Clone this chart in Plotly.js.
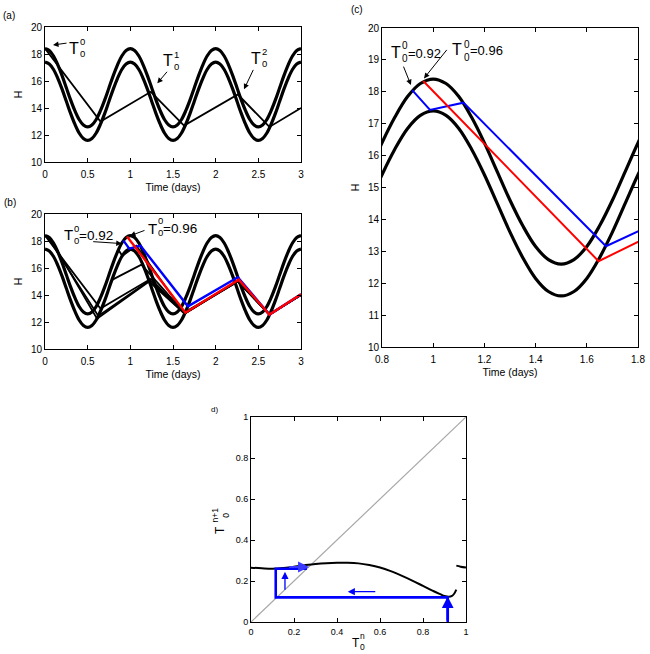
<!DOCTYPE html>
<html>
<head>
<meta charset="utf-8">
<script src="https://cdn.plot.ly/plotly-3.0.1.min.js"></script>
<style>html,body{margin:0;padding:0;background:#fff;}#chart{width:650px;height:654px;}</style>
</head>
<body>
<div id="chart"></div>
<script>
// ---------------- data ----------------
const timeDays = [0,0.05,0.1,0.15,0.2,0.25,0.3,0.35,0.4,0.45,0.5,0.55,0.6,0.65,0.7,0.75,0.8,0.85,0.9,0.95,
  1,1.05,1.1,1.15,1.2,1.25,1.3,1.35,1.4,1.45,1.5,1.55,1.6,1.65,1.7,1.75,1.8,1.85,1.9,1.95,
  2,2.05,2.1,2.15,2.2,2.25,2.3,2.35,2.4,2.45,2.5,2.55,2.6,2.65,2.7,2.75,2.8,2.85,2.9,2.95,3];
const upperH = [18.40,18.26,17.85,17.20,16.40,15.50,14.60,13.80,13.15,12.74,12.60,12.74,13.15,13.80,14.60,15.50,16.40,17.20,17.85,18.26,
  18.40,18.26,17.85,17.20,16.40,15.50,14.60,13.80,13.15,12.74,12.60,12.74,13.15,13.80,14.60,15.50,16.40,17.20,17.85,18.26,
  18.40,18.26,17.85,17.20,16.40,15.50,14.60,13.80,13.15,12.74,12.60,12.74,13.15,13.80,14.60,15.50,16.40,17.20,17.85,18.26,18.40];
const lowerH = [17.40,17.26,16.85,16.20,15.40,14.50,13.60,12.80,12.15,11.74,11.60,11.74,12.15,12.80,13.60,14.50,15.40,16.20,16.85,17.26,
  17.40,17.26,16.85,16.20,15.40,14.50,13.60,12.80,12.15,11.74,11.60,11.74,12.15,12.80,13.60,14.50,15.40,16.20,16.85,17.26,
  17.40,17.26,16.85,16.20,15.40,14.50,13.60,12.80,12.15,11.74,11.60,11.74,12.15,12.80,13.60,14.50,15.40,16.20,16.85,17.26,17.40];

// panel (a) trajectory
const trajA_t = [0, 0.65, 1.24, 1.63, 2.26, 2.63, 3];
const trajA_H = [18.4, 13.0, 15.2, 12.7, 15.0, 12.6, 14.0];

// panel (b) black trajectories
const trajB2_t = [0.03, 0.625, 1.23, 1.63, 2.26, 2.63, 3];
const trajB2_H = [18.3, 12.45, 15.1, 12.65, 15.0, 12.55, 14.0];
const trajB3_t = [0.07, 0.61, 1.22, 1.635, 2.26, 2.63, 3];
const trajB3_H = [18.1, 12.25, 15.0, 12.62, 15.0, 12.55, 14.0];
const trajB4_t = [0.78, 1.13, 1.64, 2.26, 2.63, 3];
const trajB4_H = [15.1, 16.25, 12.65, 15.05, 12.55, 14.0];
const trajB5_t = [0.86, 0.905, 1.07, 1.64, 2.26, 2.63, 3];
const trajB5_H = [17.35, 16.9, 17.65, 12.62, 15.05, 12.55, 14.0];

// T0 = 0.92 (blue) and T0 = 0.96 (red)
const blue_t = [0.918, 0.9875, 1.118, 1.675, 2.26, 2.63, 3];
const blue_H = [18.05, 17.43, 17.66, 13.16, 15.32, 12.55, 14.05];
const red_t  = [0.961, 1.646, 2.27, 2.63, 3];
const red_H  = [18.34, 12.69, 15.14, 12.55, 14.05];

// panel (d) return map
const mapX  = [0,0.05,0.1,0.15,0.2,0.25,0.3,0.35,0.4,0.45,0.5,0.55,0.6,0.65,0.7,0.75,0.8,0.85,0.88,0.9,0.92,0.935,0.945,0.955];
const mapY  = [0.265,0.262,0.260,0.263,0.270,0.277,0.283,0.287,0.289,0.289,0.286,0.278,0.266,0.248,0.226,0.202,0.176,0.150,0.136,0.127,0.123,0.127,0.138,0.158];
const mapX2 = [0.955, 0.975, 1.0];
const mapY2 = [0.275, 0.270, 0.266];
const diagX = [0, 1];
const diagY = [0, 1];
const cobX  = [0.915, 0.915, 0.115, 0.115, 0.26];
const cobY  = [0, 0.12, 0.12, 0.26, 0.26];

// ---------------- figure ----------------
const W = 650, Hh = 654;
const F = 'Liberation Sans, Arial, Helvetica, sans-serif';
const BLUE = '#0000ff', RED = '#ff0000';

function line(x, y, xa, ya, color, width, shape) {
  return {x: x, y: y, xaxis: xa, yaxis: ya, type: 'scatter', mode: 'lines',
    line: {color: color, width: width, shape: shape || 'linear'}, hoverinfo: 'skip'};
}
const traces = [];
// (a)
traces.push(line(timeDays, upperH, 'x', 'y', '#000', 3.2, 'spline'));
traces.push(line(timeDays, lowerH, 'x', 'y', '#000', 3.2, 'spline'));
traces.push(line(trajA_t, trajA_H, 'x', 'y', '#000', 1.8));
// (b)
traces.push(line(timeDays, upperH, 'x2', 'y2', '#000', 3.2, 'spline'));
traces.push(line(timeDays, lowerH, 'x2', 'y2', '#000', 3.2, 'spline'));
traces.push(line(trajA_t, trajA_H, 'x2', 'y2', '#000', 1.8));
traces.push(line(trajB2_t, trajB2_H, 'x2', 'y2', '#000', 1.8));
traces.push(line(trajB3_t, trajB3_H, 'x2', 'y2', '#000', 1.8));
traces.push(line(trajB4_t, trajB4_H, 'x2', 'y2', '#000', 1.8));
traces.push(line(trajB5_t, trajB5_H, 'x2', 'y2', '#000', 1.8));
traces.push(line(blue_t, blue_H, 'x2', 'y2', BLUE, 2.4));
traces.push(line(red_t, red_H, 'x2', 'y2', RED, 2.4));
// (c)
traces.push(line(timeDays, upperH, 'x3', 'y3', '#000', 3.2, 'spline'));
traces.push(line(timeDays, lowerH, 'x3', 'y3', '#000', 3.2, 'spline'));
traces.push(line(blue_t, blue_H, 'x3', 'y3', BLUE, 2));
traces.push(line(red_t, red_H, 'x3', 'y3', RED, 2));
// (d)
traces.push(line(diagX, diagY, 'x4', 'y4', '#a8a8a8', 1.2));
traces.push(line(mapX, mapY, 'x4', 'y4', '#000', 2, 'spline'));
traces.push(line(mapX2, mapY2, 'x4', 'y4', '#000', 2, 'spline'));
traces.push(line(cobX, cobY, 'x4', 'y4', BLUE, 2.6));

function ax(domain, range, dtick, anchor, fs, title, standoff, extra) {
  const a = {domain: domain, range: range, dtick: dtick, tick0: range[0], anchor: anchor,
    showline: true, linecolor: '#000', linewidth: 1, mirror: 'ticks',
    ticks: 'inside', ticklen: 4, tickwidth: 1, tickcolor: '#000',
    showgrid: false, zeroline: false, fixedrange: true,
    tickfont: {family: F, size: fs, color: '#000'}};
  if (title) a.title = {text: title, font: {family: F, size: 10.5, color: '#000'}, standoff: standoff};
  return Object.assign(a, extra || {});
}
const px = (v) => v / W, py = (v) => 1 - v / Hh;
const XT = {ticklabelstandoff: 3};

const layout = {
  width: W, height: Hh, margin: {l: 0, r: 0, t: 0, b: 0},
  paper_bgcolor: '#fff', plot_bgcolor: '#fff', showlegend: false,
  xaxis:  ax([px(45), px(301)],  [0, 3],     0.5, 'y',  10, 'Time (days)', 4, XT),
  yaxis:  ax([py(162), py(27)],  [10, 20],   2,   'x',  10, 'H', 6),
  xaxis2: ax([px(45), px(301)],  [0, 3],     0.5, 'y2', 10, 'Time (days)', 4, XT),
  yaxis2: ax([py(349), py(214)], [10, 20],   2,   'x2', 10, 'H', 6),
  xaxis3: ax([px(382), px(638)], [0.8, 1.8], 0.2, 'y3', 10, 'Time (days)', 4, XT),
  yaxis3: ax([py(347), py(28)],  [10, 20],   1,   'x3', 10, 'H', 6),
  xaxis4: ax([px(251), px(466)], [0, 1],     0.2, 'y4', 9, null, 0, {ticklabelstandoff: 1}),
  yaxis4: ax([py(622), py(417)], [0, 1],     0.2, 'x4', 9),
  annotations: []
};

const A = layout.annotations;
function txt(x, y, text, size, extra) {
  A.push(Object.assign({xref: 'paper', yref: 'paper', x: px(x), y: py(y), text: text,
    showarrow: false, xanchor: 'left', yanchor: 'middle', borderpad: 0,
    font: {family: F, size: size, color: '#000'}}, extra || {}));
}
function arrow(xr, yr, x, y, axp, ayp, extra) {
  A.push(Object.assign({xref: xr, yref: yr, x: x, y: y, ax: axp, ay: ayp, text: '',
    showarrow: true, arrowhead: 2, arrowsize: 1.1, arrowwidth: 1, arrowcolor: '#000'}, extra || {}));
}

// panel labels
txt(1.5, 15.5, '(a)', 10);
txt(3, 202, '(b)', 10);
txt(350.5, 9, '(c)', 10);
txt(210, 409, 'd)', 8);

// (a) annotations
txt(68, 48, 'T', 16); txt(79, 47.5, '0<br>0', 9.5);
arrow('x', 'y', 0.094, 18.67, 15, -2);
txt(162, 61, 'T', 16); txt(173, 60, '1<br>0', 9.5);
arrow('x', 'y', 1.316, 15.83, 11, -13);
txt(250, 59, 'T', 16); txt(261, 58, '2<br>0', 9.5);
arrow('x', 'y', 2.332, 15.38, 10, -21);

// (b) annotations
txt(63, 234, 'T', 15); txt(73, 234, '0<br>0', 9.5); txt(77.5, 235, '=0.92', 13.5);
arrow('x2', 'y2', 0.899, 17.81, -30, -2);
txt(146.5, 228, 'T', 15); txt(156.5, 227, '0<br>0', 9.5); txt(161.5, 228, '=0.96', 13.5);
arrow('x2', 'y2', 0.996, 18.38, 16, -6);

// (c) annotations
txt(389.5, 52.5, 'T', 16); txt(401, 51.7, '0<br>0', 10); txt(407, 53, '=0.92', 13);
arrow('x3', 'y3', 0.913, 18.21, -8, -20);
txt(451, 49.5, 'T', 16); txt(462.5, 50.5, '0<br>0', 10); txt(469, 51, '=0.96', 13);
arrow('x3', 'y3', 0.964, 18.42, 24, -30);

// (d) axis titles
txt(351, 642.5, 'T', 12); txt(358.5, 641, 'n<br>0', 8.5);
txt(220, 530, 'T', 12, {textangle: -90, xanchor: 'center'});
txt(219.5, 515, 'n+1<br>0', 8.5, {textangle: -90, xanchor: 'center'});

// (d) arrows
const dArrow = {axref: 'x4', ayref: 'y4', arrowcolor: BLUE};
arrow('x4', 'y4', 0.915, 0.125, 0.915, 0.0, Object.assign({}, dArrow, {arrowwidth: 2.6, arrowsize: 0.9}));
arrow('x4', 'y4', 0.45, 0.148, 0.585, 0.148, Object.assign({}, dArrow, {arrowwidth: 1.3}));
arrow('x4', 'y4', 0.158, 0.245, 0.158, 0.15, Object.assign({}, dArrow, {arrowwidth: 1.3}));
arrow('x4', 'y4', 0.27, 0.268, 0.17, 0.268, Object.assign({}, dArrow, {arrowwidth: 2, arrowcolor: '#3a3aff'}));

Plotly.newPlot('chart', traces, layout, {displayModeBar: false, staticPlot: true});
</script>
</body>
</html>
